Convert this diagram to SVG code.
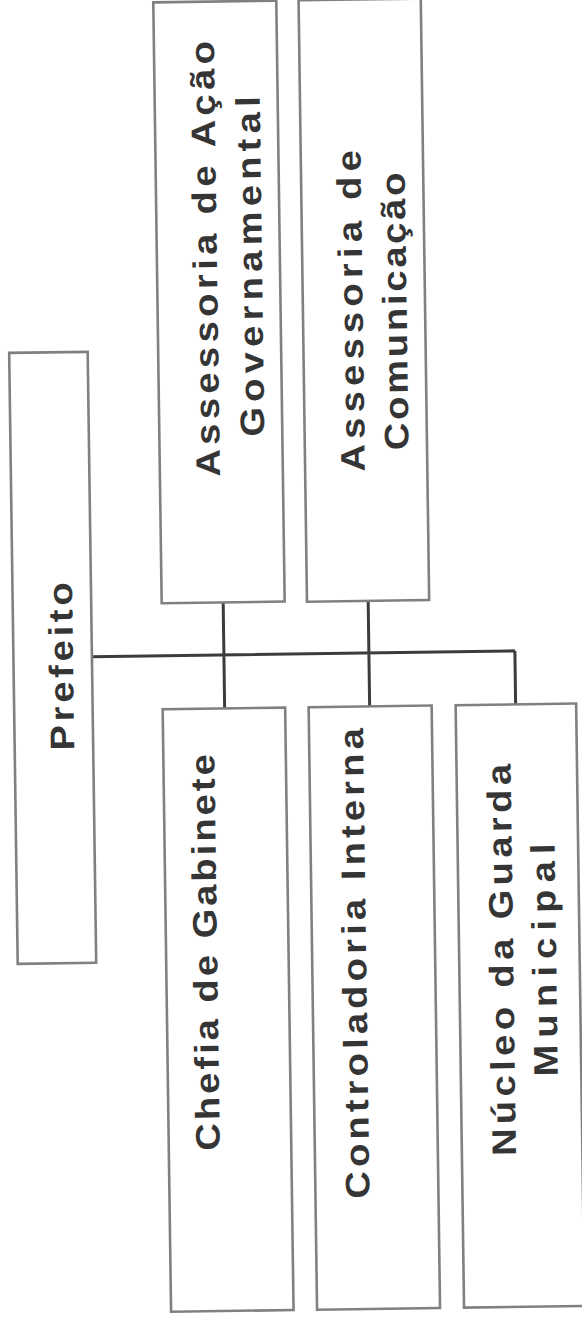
<svg xmlns="http://www.w3.org/2000/svg" width="582" height="1322" viewBox="0 0 582 1322">
<style>
.box{fill:#fff;stroke:#808080;stroke-width:2.6}
.lbl{font-family:"Liberation Sans",Arial,sans-serif;font-weight:bold;font-size:34px;fill:#353535;text-anchor:middle}
.conn{fill:none;stroke:#3c3c3c;stroke-width:3}
</style>
<rect width="582" height="1322" fill="#fff"/>
<g transform="rotate(-0.8 291 661)">
<g id="connectors">
<path class="conn" d="M92 654 H515 M224 601.5 V707.5 M369 602 V707.5 M515 654 V707.5"/>
</g>
<g id="prefeito"><rect class="box" x="13.5" y="349" width="78.5" height="611"/>
<text class="lbl" transform="translate(73 663.3) rotate(-90) scale(1.12 1)" textLength="150">Prefeito</text></g>
<g id="assessoria-acao"><rect class="box" x="162.5" y="0.5" width="123" height="601"/>
<text class="lbl" transform="translate(222.5 257.8) rotate(-90) scale(1.12 1)" textLength="389">Assessoria de Ação</text>
<text class="lbl" transform="translate(267.5 266) rotate(-90) scale(1.12 1)" textLength="304">Governamental</text></g>
<g id="assessoria-comunicacao"><rect class="box" x="307.8" y="0.5" width="122.2" height="601.5"/>
<text class="lbl" transform="translate(367.5 311.8) rotate(-90) scale(1.12 1)" textLength="287">Assessoria de</text>
<text class="lbl" transform="translate(411.5 312.9) rotate(-90) scale(1.12 1)" textLength="248">Comunicação</text></g>
<g id="chefia-gabinete"><rect class="box" x="162" y="707.5" width="122.5" height="602.5"/>
<text class="lbl" transform="translate(213 951.3) rotate(-90) scale(1.12 1)" textLength="354">Chefia de Gabinete</text></g>
<g id="controladoria-interna"><rect class="box" x="308" y="707.5" width="123" height="602.5"/>
<text class="lbl" transform="translate(362 964.3) rotate(-90) scale(1.12 1)" textLength="420">Controladoria Interna</text></g>
<g id="nucleo-guarda"><rect class="box" x="455" y="707.5" width="120.5" height="602.5"/>
<text class="lbl" transform="translate(509 962.9) rotate(-90) scale(1.12 1)" textLength="350">Núcleo da Guarda</text>
<text class="lbl" transform="translate(552 963.5) rotate(-90) scale(1.12 1)" textLength="208">Municipal</text></g>
</g>
</svg>
